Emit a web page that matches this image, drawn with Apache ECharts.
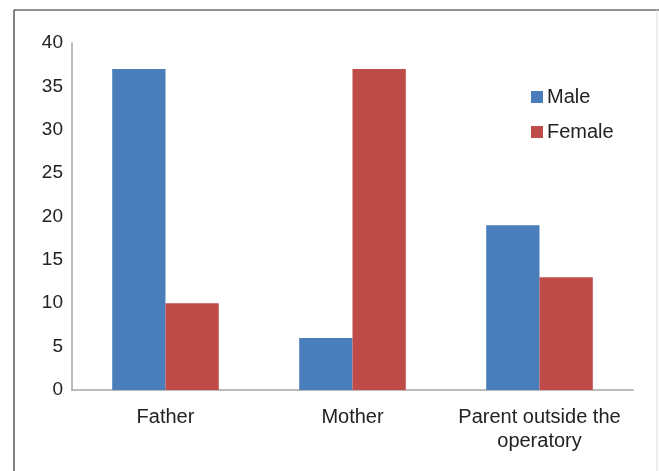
<!DOCTYPE html>
<html>
<head>
<meta charset="utf-8">
<script src="https://cdn.jsdelivr.net/npm/echarts@6/dist/echarts.min.js"></script>
<style>
  html, body { margin: 0; padding: 0; background: #fff; }
  #chart { width: 659px; height: 471px; }
</style>
</head>
<body>
<div id="chart"></div>
<script>
  // data
  var categories = ['Father', 'Mother', 'Parent outside the\noperatory'];
  var maleData = [37, 6, 19];
  var femaleData = [10, 37, 13];
  var seriesNames = ['Male', 'Female'];

  var chart = echarts.init(document.getElementById('chart'));
  var font = 'Liberation Sans, Arial, sans-serif';

  var option = {
    backgroundColor: '#fff',
    animation: false,
    textStyle: { fontFamily: font },
    grid: { left: 72, right: 26, top: 43, bottom: 81, containLabel: false },
    legend: {
      orient: 'vertical',
      left: 526,
      top: 82,
      itemWidth: 12,
      itemHeight: 12,
      itemGap: 15,
      icon: 'rect',
      textStyle: { fontSize: 20, color: '#222', fontFamily: font, padding: [0, 0, 0, -1] },
      data: seriesNames
    },
    xAxis: {
      type: 'category',
      data: categories,
      axisTick: { show: false },
      axisLine: { lineStyle: { color: '#a6a6a6', width: 1.5 } },
      axisLabel: { fontSize: 20, color: '#222', margin: 15, lineHeight: 24, interval: 0 }
    },
    yAxis: {
      type: 'value',
      min: 0,
      max: 40,
      interval: 5,
      axisLine: { show: true, lineStyle: { color: '#a6a6a6', width: 1.5 } },
      axisTick: { show: false },
      splitLine: { show: false },
      axisLabel: { fontSize: 19, color: '#222', margin: 9 }
    },
    series: [
      {
        name: 'Male',
        type: 'bar',
        data: maleData,
        barGap: '0%',
        barCategoryGap: '43%',
        itemStyle: { color: '#4A7EBB' }
      },
      {
        name: 'Female',
        type: 'bar',
        data: femaleData,
        itemStyle: { color: '#BE4B48' }
      }
    ],
    graphic: [
      { type: 'line', shape: { x1: 14, y1: 10, x2: 14, y2: 471 }, style: { stroke: '#333', lineWidth: 1.2 } },
      { type: 'line', shape: { x1: 14, y1: 10, x2: 659, y2: 10 }, style: { stroke: '#222', lineWidth: 1.2 } },
      { type: 'line', shape: { x1: 657, y1: 10, x2: 657, y2: 471 }, style: { stroke: '#ddd', lineWidth: 1 } }
    ]
  };
  chart.setOption(option);
</script>
</body>
</html>
